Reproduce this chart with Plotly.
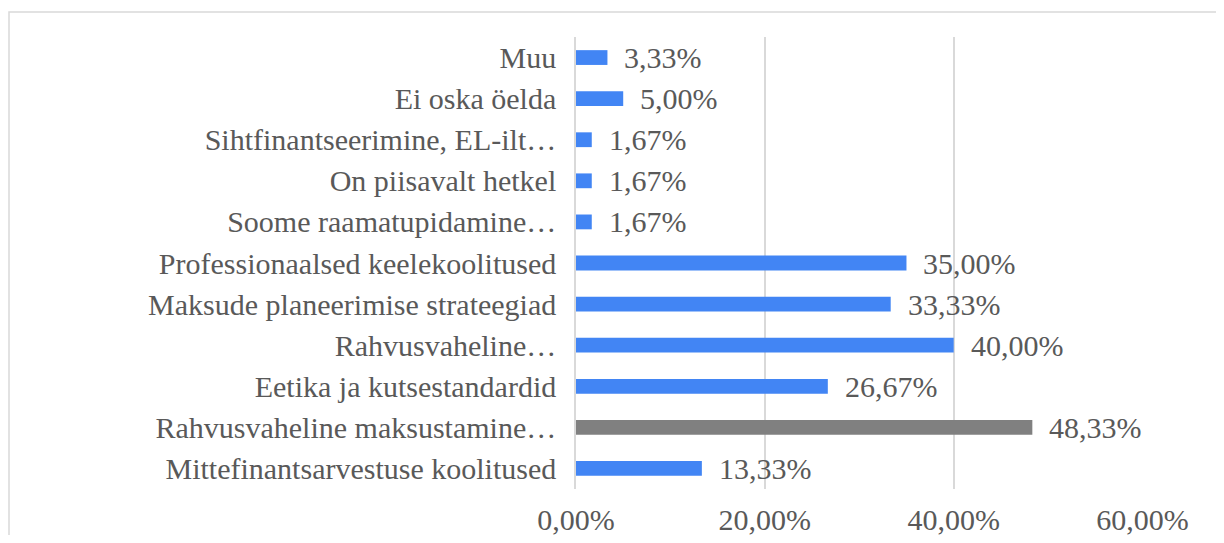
import plotly.graph_objects as go

categories = [
    "Muu",
    "Ei oska öelda",
    "Sihtfinantseerimine, EL-ilt…",
    "On piisavalt hetkel",
    "Soome raamatupidamine…",
    "Professionaalsed keelekoolitused",
    "Maksude planeerimise strateegiad",
    "Rahvusvaheline…",
    "Eetika ja kutsestandardid",
    "Rahvusvaheline maksustamine…",
    "Mittefinantsarvestuse koolitused",
]
values = [0.0333, 0.0500, 0.0167, 0.0167, 0.0167, 0.3500, 0.3333, 0.4000, 0.2667, 0.4833, 0.1333]
highlight = "Rahvusvaheline maksustamine…"
tick_vals = [0, 0.2, 0.4, 0.6]

BLUE = "#4285F4"
GRAY = "#808080"
TEXT = "#595959"
GRID = "#D9D9D9"
FONT = "Liberation Serif"
FS = 30

# page has an 8px body margin, so the figure is sized/placed to compensate
W, H = 1208, 527
L, R, T, B = 568, 73, 29, 46

colors = [GRAY if c == highlight else BLUE for c in categories]

fig = go.Figure(go.Bar(
    x=values, y=categories, orientation="h",
    marker=dict(color=colors, line=dict(width=0)),
    width=0.36,
    hoverinfo="x+y",
))

for c, v in zip(categories, values):
    fig.add_annotation(
        x=v, y=c, xref="x", yref="y",
        text=f"{v*100:.2f}%".replace(".", ","),
        showarrow=False, xanchor="left", yanchor="middle",
        xshift=15, font=dict(family=FONT, size=FS, color=TEXT),
    )

pw = W - L - R
ph = H - T - B
fig.add_shape(
    type="rect", xref="paper", yref="paper",
    x0=(1 - L) / pw, x1=(W + 10 - L) / pw,
    y0=(H - B - (H + 10)) / ph, y1=(H - B - 4) / ph,
    line=dict(color=GRID, width=1.5), fillcolor="rgba(0,0,0,0)", layer="below",
)

fig.update_layout(
    width=W, height=H, autosize=False,
    margin=dict(l=L, r=R, t=T, b=B, pad=0, autoexpand=False),
    paper_bgcolor="white", plot_bgcolor="white",
    separators=",.",
    showlegend=False,
    font=dict(family=FONT, size=FS, color=TEXT),
    xaxis=dict(
        range=[0, 0.6005], tickvals=tick_vals, tickformat=".2%",
        showgrid=True, gridcolor=GRID, gridwidth=1.5,
        zeroline=False, showline=False, automargin=False,
        ticks="outside", ticklen=4, tickcolor="rgba(0,0,0,0)",
        tickfont=dict(family=FONT, size=FS, color=TEXT),
        fixedrange=True,
    ),
    yaxis=dict(
        autorange="reversed", showgrid=False, zeroline=False,
        showline=True, linecolor=GRID, linewidth=1.5, automargin=False,
        ticks="outside", ticklen=12, tickcolor="rgba(0,0,0,0)",
        tickfont=dict(family=FONT, size=FS, color=TEXT),
        fixedrange=True,
    ),
)

fig.write_html("out.html")
